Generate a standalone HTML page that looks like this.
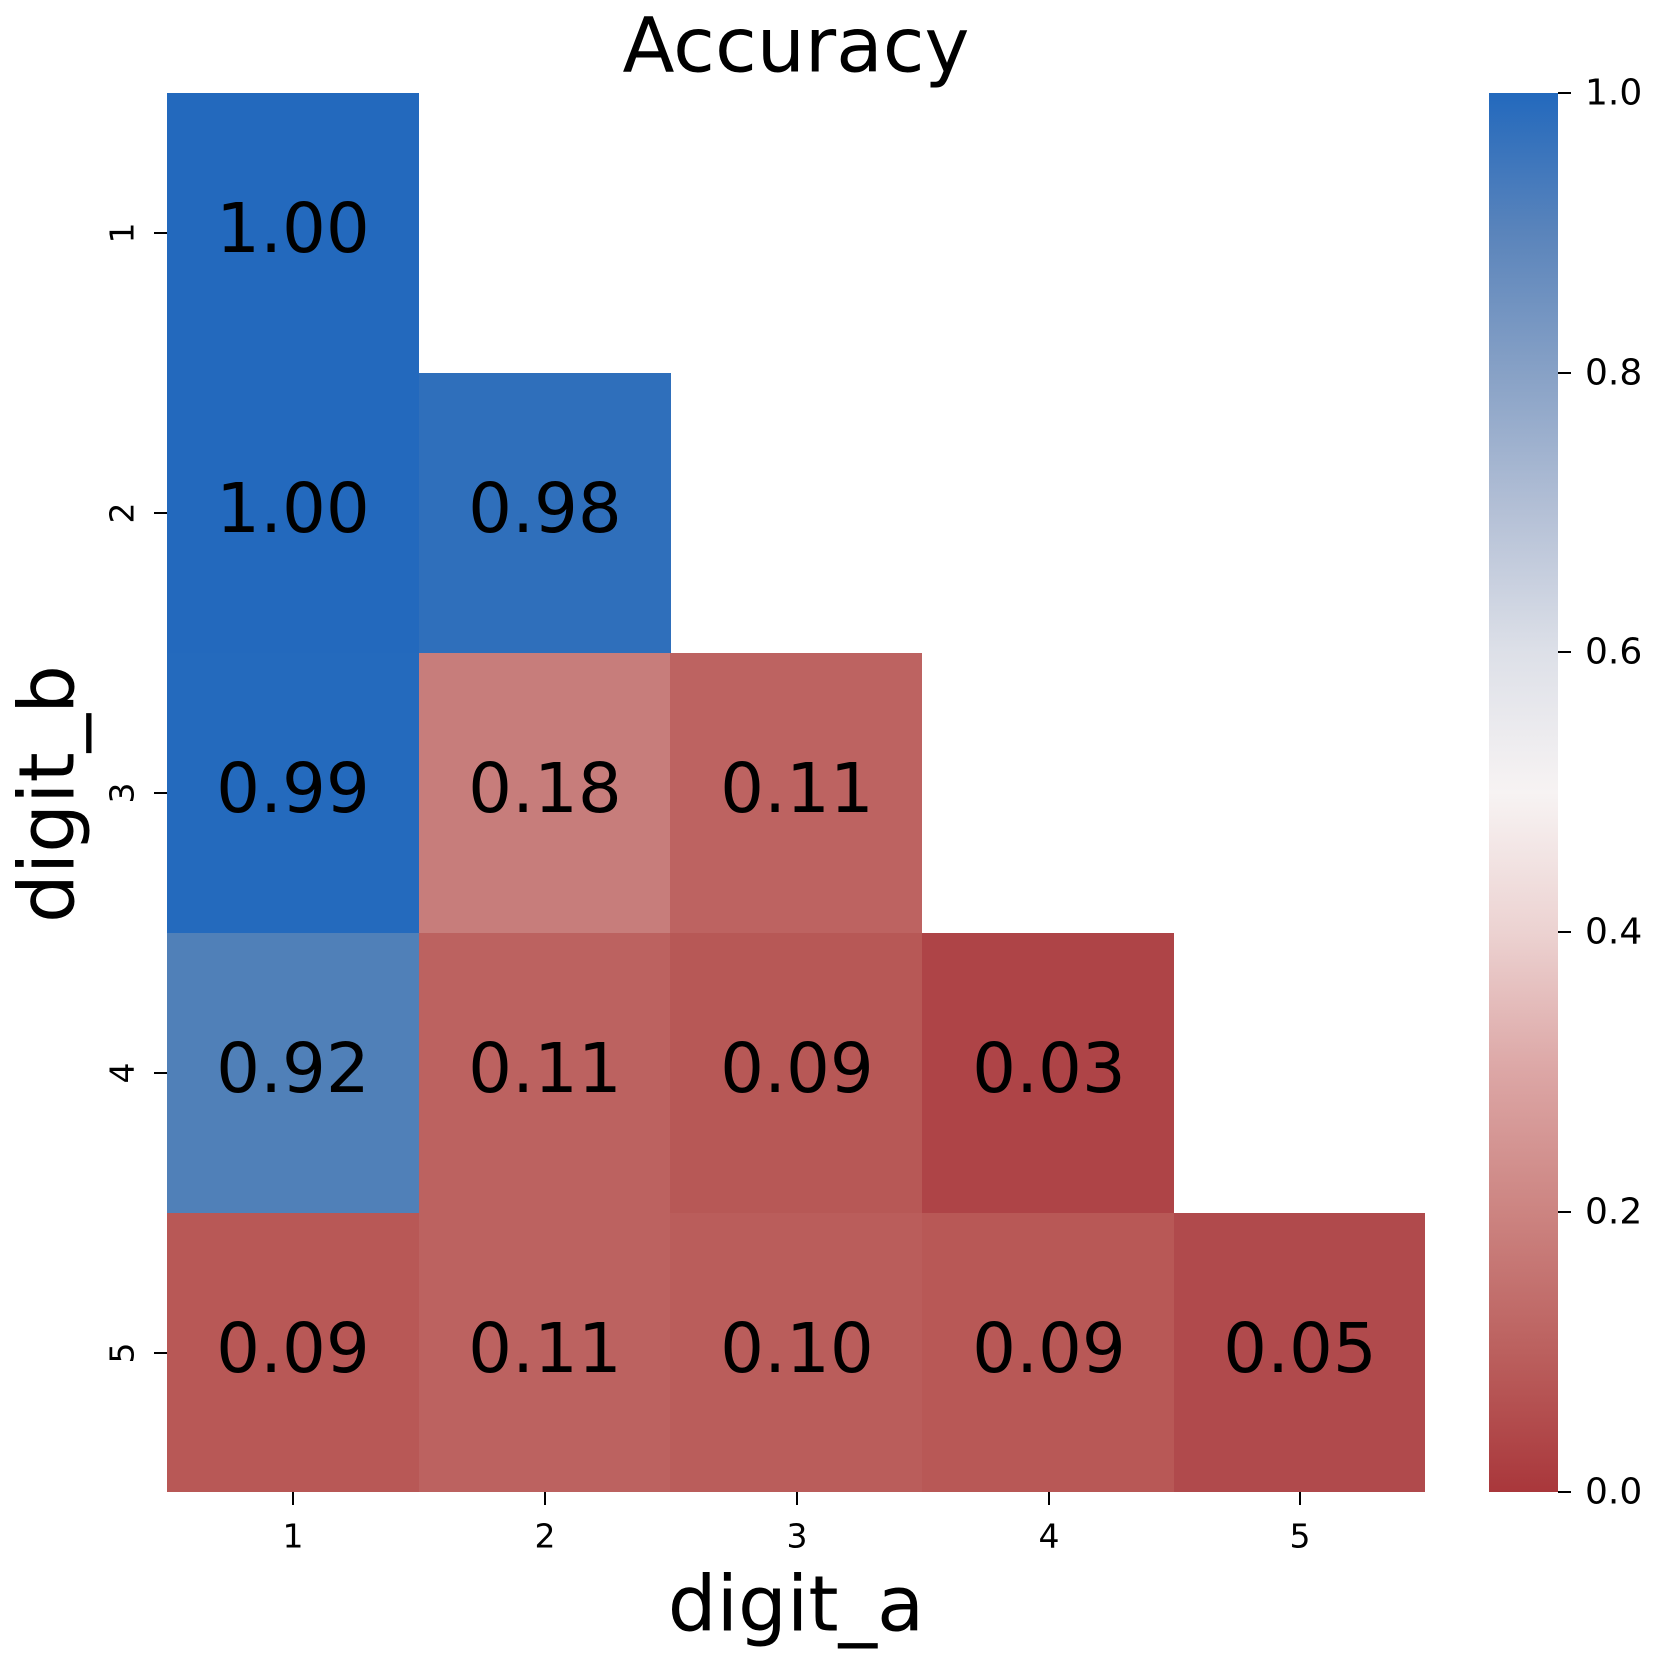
<!DOCTYPE html>
<html><head><style>html,body{margin:0;padding:0;background:#fff}svg{display:block}</style></head>
<body>
<svg width="1661" height="1661" viewBox="0 0 1661 1661" xmlns="http://www.w3.org/2000/svg" font-family="DejaVu Sans, Liberation Sans, sans-serif">
<defs>
<linearGradient id="cb" x1="0" y1="1" x2="0" y2="0">
<stop offset="0" stop-color="#a9373b"/>
<stop offset="0.1" stop-color="#bb605e"/>
<stop offset="0.2" stop-color="#cc8481"/>
<stop offset="0.3" stop-color="#dca6a5"/>
<stop offset="0.4" stop-color="#ecd2d1"/>
<stop offset="0.5" stop-color="#f7f3f3"/>
<stop offset="0.6" stop-color="#dde0e8"/>
<stop offset="0.7" stop-color="#b4c0d6"/>
<stop offset="0.8" stop-color="#87a1c6"/>
<stop offset="0.9" stop-color="#5a84bb"/>
<stop offset="1" stop-color="#2369bd"/>
</linearGradient>
</defs>
<rect width="1661" height="1661" fill="#fff"/>
<text x="796" y="45" font-size="76" text-anchor="middle" dominant-baseline="central">Accuracy</text>
<g>
<rect x="167" y="93" width="252" height="281" fill="#2369bd"/>
<rect x="167" y="373" width="252" height="281" fill="#2369bd"/>
<rect x="419" y="373" width="252" height="281" fill="#2f6fbb"/>
<rect x="167" y="653" width="252" height="281" fill="#246abd"/>
<rect x="419" y="653" width="252" height="281" fill="#c77d7b"/>
<rect x="670" y="653" width="252" height="281" fill="#bd6361"/>
<rect x="167" y="933" width="252" height="281" fill="#5080b8"/>
<rect x="419" y="933" width="252" height="281" fill="#bc6260"/>
<rect x="670" y="933" width="252" height="281" fill="#b75856"/>
<rect x="922" y="933" width="252" height="281" fill="#ae4447"/>
<rect x="167" y="1213" width="252" height="279" fill="#b85856"/>
<rect x="419" y="1213" width="252" height="279" fill="#bc6260"/>
<rect x="670" y="1213" width="252" height="279" fill="#ba5d5b"/>
<rect x="922" y="1213" width="252" height="279" fill="#b85856"/>
<rect x="1174" y="1213" width="251" height="279" fill="#b04a4c"/>
</g>
<g font-size="69" text-anchor="middle" dominant-baseline="central" fill="#000">
<text x="293" y="229">1.00</text>
<text x="293" y="509">1.00</text>
<text x="545" y="509">0.98</text>
<text x="293" y="789">0.99</text>
<text x="545" y="789">0.18</text>
<text x="797" y="789">0.11</text>
<text x="293" y="1069">0.92</text>
<text x="545" y="1069">0.11</text>
<text x="797" y="1069">0.09</text>
<text x="1049" y="1069">0.03</text>
<text x="293" y="1349">0.09</text>
<text x="545" y="1349">0.11</text>
<text x="797" y="1349">0.10</text>
<text x="1049" y="1349">0.09</text>
<text x="1300" y="1349">0.05</text>
</g>
<g stroke="#000" stroke-width="2">
<line x1="293" y1="1492" x2="293" y2="1505"/>
<line x1="545" y1="1492" x2="545" y2="1505"/>
<line x1="797" y1="1492" x2="797" y2="1505"/>
<line x1="1049" y1="1492" x2="1049" y2="1505"/>
<line x1="1300" y1="1492" x2="1300" y2="1505"/>
<line x1="154" y1="233" x2="167" y2="233"/>
<line x1="154" y1="513" x2="167" y2="513"/>
<line x1="154" y1="793" x2="167" y2="793"/>
<line x1="154" y1="1073" x2="167" y2="1073"/>
<line x1="154" y1="1353" x2="167" y2="1353"/>
</g>
<g font-size="33" text-anchor="middle" dominant-baseline="central">
<text x="293" y="1536">1</text>
<text x="545" y="1536">2</text>
<text x="797" y="1536">3</text>
<text x="1049" y="1536">4</text>
<text x="1300" y="1536">5</text>
<text transform="translate(122,233) rotate(-90)">1</text>
<text transform="translate(122,513) rotate(-90)">2</text>
<text transform="translate(122,793) rotate(-90)">3</text>
<text transform="translate(122,1073) rotate(-90)">4</text>
<text transform="translate(122,1353) rotate(-90)">5</text>
</g>
<text x="796" y="1605" font-size="77" text-anchor="middle" dominant-baseline="central">digit_a</text>
<text transform="translate(48,794) rotate(-90)" font-size="77" text-anchor="middle" dominant-baseline="central">digit_b</text>
<rect x="1489" y="93" width="69" height="1399" fill="url(#cb)"/>
<g stroke="#000" stroke-width="2">
<line x1="1558" y1="93" x2="1571" y2="93"/>
<line x1="1558" y1="373" x2="1571" y2="373"/>
<line x1="1558" y1="652" x2="1571" y2="652"/>
<line x1="1558" y1="932" x2="1571" y2="932"/>
<line x1="1558" y1="1212" x2="1571" y2="1212"/>
<line x1="1558" y1="1492" x2="1571" y2="1492"/>
</g>
<g font-size="36" dominant-baseline="central">
<text x="1585" y="93">1.0</text>
<text x="1585" y="373">0.8</text>
<text x="1585" y="652">0.6</text>
<text x="1585" y="932">0.4</text>
<text x="1585" y="1212">0.2</text>
<text x="1585" y="1492">0.0</text>
</g>
</svg>
</body></html>
